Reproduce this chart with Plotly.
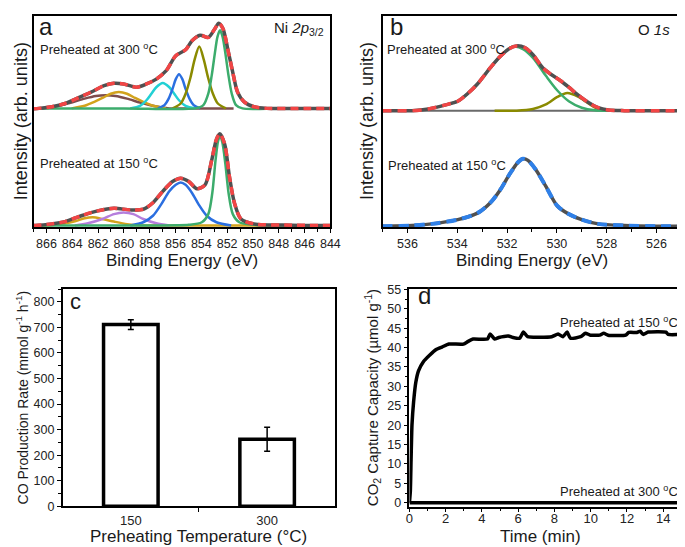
import plotly.graph_objects as go

FONT = "Liberation Sans, Arial, sans-serif"

# ---------------- Panel a: Ni 2p3/2 (arb. units) ----------------
# 300 C spectrum (envelope / data)
a300_env_E = [867.0, 866.58, 865.57, 864.56, 863.55, 862.54, 861.53, 860.77, 860.02, 859.01, 858.25,
              857.49, 856.74, 855.98, 855.22, 854.72, 854.09, 853.46, 852.95, 852.65, 852.32, 851.94,
              851.56, 851.19, 850.68, 849.92, 848.91, 846.0, 844.0]
a300_env_I = [364, 365, 370, 380, 397, 415, 435, 442, 440, 430, 440,
              455, 480, 527, 545, 573, 590, 583, 610, 627, 610, 545,
              475, 415, 385, 370, 365, 365, 365]
a300_green_E = [867.0, 860.0, 854.46, 853.84, 853.46, 853.20, 852.95, 852.75, 852.55, 852.35, 852.14,
                851.89, 851.64, 851.31, 850.81, 848.0, 844.0]
a300_green_I = [365, 365, 365, 375, 410, 465, 535, 585, 605, 585, 535, 465, 410, 375, 365, 365, 365]
a300_olive_E = [856.23, 855.60, 855.22, 854.84, 854.52, 854.16, 853.81, 853.48, 853.10, 852.72, 852.09]
a300_olive_I = [365, 380, 410, 460, 515, 555, 515, 460, 410, 380, 365]
a300_blue_E = [857.37, 856.86, 856.53, 856.23, 855.98, 855.73, 855.47, 855.22, 854.92, 854.59, 854.09]
a300_blue_I = [365, 375, 395, 425, 455, 470, 455, 425, 395, 375, 365]
a300_cyan_E = [859.51, 858.75, 858.25, 857.87, 857.49, 856.99, 856.48, 856.10, 855.73, 855.22, 854.46]
a300_cyan_I = [365, 373, 390, 410, 430, 443, 430, 410, 390, 373, 365]
a300_gold_E = [864.05, 863.04, 862.29, 861.66, 861.02, 860.39, 859.76, 859.13, 858.50, 857.75, 856.74]
a300_gold_I = [365, 373, 385, 397, 410, 415, 410, 397, 385, 373, 365]
a300_brown_E = [866.32, 865.06, 864.05, 863.04, 862.16, 861.40, 860.65, 859.76, 858.75, 857.75, 856.48,
                854.0, 851.5]
a300_brown_I = [365, 373, 383, 395, 403, 405, 403, 395, 383, 373, 365, 365, 365]

# 150 C spectrum
a150_env_E = [867.0, 866.83, 865.57, 864.56, 863.30, 862.03, 860.77, 859.51, 858.50, 857.75, 856.99,
              856.23, 855.60, 854.97, 854.34, 853.71, 853.20, 852.83, 852.57, 852.19, 851.82, 851.44,
              850.93, 849.92, 847.0, 844.0]
a150_env_I = [5, 5, 10, 17, 35, 50, 58, 53, 55, 75, 110,
              140, 150, 140, 118, 130, 205, 270, 287, 255, 155, 75,
              25, 10, 6, 5]
a150_green_E = [867.0, 858.0, 854.97, 853.96, 853.46, 853.15, 852.90, 852.70, 852.55, 852.37, 852.14,
                851.89, 851.56, 851.06, 849.92, 847.0, 844.0]
a150_green_I = [5, 5, 7, 15, 40, 105, 205, 265, 280, 260, 195, 105, 40, 15, 7, 5, 5]
a150_blue_E = [859.51, 858.50, 857.75, 857.11, 856.48, 855.98, 855.60, 855.22, 854.72, 854.21, 853.58,
               852.83, 851.69]
a150_blue_I = [5, 15, 35, 70, 110, 130, 137, 130, 105, 70, 35, 15, 5]
a150_purple_E = [863.80, 862.79, 861.66, 860.77, 860.02, 859.26, 858.50, 857.49, 856.48]
a150_purple_I = [5, 12, 25, 40, 45, 40, 25, 12, 5]
a150_gold_E = [867.0, 866.6, 865.82, 864.81, 863.80, 863.04, 862.41, 861.66, 860.77, 859.76, 858.75,
               857.0, 850.0, 844.0]
a150_gold_I = [5, 5, 5, 10, 18, 27, 30, 25, 17, 9, 5, 5, 5, 5]

# ---------------- Panel b: O 1s ----------------
b300_env_E = [537.0, 536.87, 535.82, 535.16, 534.51, 533.98, 533.59, 533.19, 532.67, 532.27, 531.88,
              531.62, 531.29, 530.96, 530.57, 530.24, 529.85, 529.52, 529.13, 528.73, 528.34,
              527.94, 527.29, 526.0, 525.0]
b300_env_I = [358, 358, 358, 363, 375, 387, 410, 440, 490, 525, 550,
              557, 552, 530, 490, 470, 450, 430, 405, 383, 367,
              360, 358, 358, 358]
b300_green_E = [537.0, 535.82, 535.16, 534.51, 533.98, 533.59, 533.19, 532.67, 532.27, 531.88, 531.68,
                531.36, 530.96, 530.44, 529.98, 529.52, 529.00, 528.47, 527.94, 525.0]
b300_green_I = [358, 358, 363, 375, 387, 410, 440, 490, 525, 552, 555,
                547, 520, 465, 420, 387, 367, 359, 358, 358]
b300_olive_E = [532.5, 531.62, 530.96, 530.44, 529.98, 529.58, 529.13, 528.73, 528.34, 527.94, 527.3]
b300_olive_I = [358, 358, 363, 377, 400, 412, 400, 380, 363, 358, 358]
b_base_E = [537.0, 525.0]
b_base_I = [358, 358]

b150_env_E = [537.0, 536.87, 535.82, 535.03, 533.98, 533.19, 532.67, 532.27, 531.88, 531.55, 531.36,
              531.16, 530.83, 530.44, 529.98, 529.52, 529.00, 528.34, 527.29, 526.0, 525.0]
b150_env_I = [3, 3, 5, 10, 23, 43, 75, 115, 165, 200, 210,
              205, 175, 125, 65, 40, 23, 10, 5, 3, 3]

# ---------------- Panel c: CO production ----------------
c_categories = ["150", "300"]
c_values = [711, 262]
c_errors = [19, 47]

# ---------------- Panel d: CO2 capture ----------------
d150_t = [0, 0.05, 0.09, 0.14, 0.23, 0.35, 0.5, 0.76, 1.11, 1.47, 1.82, 2.18, 2.98, 3.24, 3.51, 4.31,
          4.45, 4.7, 4.93, 5.46, 5.72, 6.08, 6.29, 6.52, 7.85, 8.2, 8.47, 8.7, 8.88, 9.45, 9.71, 9.98,
          10.5, 10.72, 10.96, 11.93, 12.1, 12.55, 12.73, 12.9, 13.17, 14.15, 14.27, 15.0]
d150_v = [0, 3, 11, 20, 26, 31, 34, 36.3, 38, 39.5, 40.2, 40.9, 40.9, 41.6, 42.2, 42.2,
          43.5, 42.2, 42.6, 43.0, 42.6, 42.4, 44.0, 42.8, 42.8, 43.5, 42.8, 44.0, 42.4, 42.8, 43.7, 43.2,
          43.2, 43.7, 43.2, 43.2, 43.9, 43.9, 44.2, 43.4, 44.0, 44.0, 43.4, 43.4]
d300_t = [0, 15]
d300_v = [0, 0]

RED = "#f24545"
GREY = "#505050"
BLUE_DASH = "#2f80e8"

fig = go.Figure()


def line(x, y, color, width, xa, ya, dash="solid", shape="spline", smooth=0.8, name=""):
    fig.add_trace(go.Scatter(x=x, y=y, mode="lines", xaxis=xa, yaxis=ya, name=name,
                             line=dict(color=color, width=width, dash=dash, shape=shape,
                                       smoothing=smooth if shape == "spline" else None),
                             showlegend=False, hoverinfo="skip"))


# panel a - 300
line(a300_brown_E, a300_brown_I, "#7d4c4c", 2.5, "x", "y")
line(a300_gold_E, a300_gold_I, "#d2a21c", 2.5, "x", "y")
line(a300_cyan_E, a300_cyan_I, "#22d0d4", 2.5, "x", "y")
line(a300_blue_E, a300_blue_I, "#2b6fe0", 2.5, "x", "y")
line(a300_olive_E, a300_olive_I, "#8a8a00", 2.5, "x", "y")
line(a300_green_E, a300_green_I, "#3cac6c", 2.5, "x", "y")
line(a300_env_E, a300_env_I, GREY, 3.5, "x", "y")
line(a300_env_E, a300_env_I, RED, 3.5, "x", "y", dash="8px,5px")
# panel a - 150
line(a150_gold_E, a150_gold_I, "#d2a21c", 2.5, "x", "y")
line(a150_purple_E, a150_purple_I, "#b57edc", 2.5, "x", "y")
line(a150_blue_E, a150_blue_I, "#2b6fe0", 2.5, "x", "y")
line(a150_green_E, a150_green_I, "#3cac6c", 2.5, "x", "y")
line(a150_env_E, a150_env_I, GREY, 3.5, "x", "y")
line(a150_env_E, a150_env_I, RED, 3.5, "x", "y", dash="8px,5px")

# panel b
line(b_base_E, b_base_I, "#6a6a6a", 2, "x2", "y2", shape="linear")
line(b300_olive_E, b300_olive_I, "#8a8a00", 2.5, "x2", "y2")
line(b300_green_E, b300_green_I, "#3cac6c", 2.5, "x2", "y2")
line(b300_env_E, b300_env_I, GREY, 3.5, "x2", "y2")
line(b300_env_E, b300_env_I, RED, 3.5, "x2", "y2", dash="9px,6px")
line(b150_env_E, b150_env_I, GREY, 3.5, "x2", "y2")
line(b150_env_E, b150_env_I, BLUE_DASH, 4, "x2", "y2", dash="10px,6px")

# panel c
fig.add_trace(go.Bar(x=[0, 1], y=c_values, width=0.4, xaxis="x3", yaxis="y3",
                     marker=dict(color="white", line=dict(color="black", width=3.5)),
                     error_y=dict(type="data", array=c_errors, color="black", thickness=1.5, width=3),
                     showlegend=False, hoverinfo="skip"))

# panel d
line(d300_t, d300_v, "black", 3.5, "x4", "y4", shape="linear")
line(d150_t, d150_v, "black", 3.5, "x4", "y4", smooth=0.5)

ax_common = dict(showline=True, mirror=True, linecolor="black", linewidth=1.5, showgrid=False,
                 zeroline=False, tickfont=dict(family=FONT, size=12.5, color="#222"),
                 ticks="outside", ticklen=4, tickwidth=1.2, tickcolor="black")

fig.update_layout(
    width=685, height=547, margin=dict(l=0, r=0, t=0, b=0),
    paper_bgcolor="white", plot_bgcolor="white",
    font=dict(family=FONT, color="#222"),
    xaxis=dict(ax_common, domain=[0.0321, 0.4745], range=[867, 844], anchor="y",
               tick0=844, dtick=2, minor=dict(dtick=1, ticks="outside", ticklen=3, tickcolor="black")),
    yaxis=dict(ax_common, domain=[0.6009, 0.9969], range=[0, 650], anchor="x",
               showticklabels=False, ticks=""),
    xaxis2=dict(ax_common, domain=[0.5523, 0.9975], range=[537, 525], anchor="y2",
                tick0=526, dtick=2, minor=dict(dtick=1, ticks="outside", ticklen=3, tickcolor="black")),
    yaxis2=dict(ax_common, domain=[0.6009, 0.9969], range=[0, 650], anchor="x2",
                showticklabels=False, ticks=""),
    xaxis3=dict(ax_common, domain=[0.0755, 0.4818], range=[-0.5, 1.5], anchor="y3",
                tickmode="array", tickvals=[0, 1], ticktext=c_categories, ticks="",
                ticklabelstandoff=1, tickfont=dict(family=FONT, size=13, color="#222"),
                minor=dict(tickmode="array", tickvals=[0.5], ticks="outside", ticklen=4,
                           tickcolor="black")),
    yaxis3=dict(ax_common, domain=[0.0781, 0.4850], range=[0, 850], anchor="x3",
                tick0=0, dtick=100, minor=dict(dtick=50, ticks="outside", ticklen=2.5, tickcolor="black")),
    xaxis4=dict(ax_common, domain=[0.5923, 0.9975], range=[0, 15], anchor="y4",
                tick0=0, dtick=2, ticklen=3, ticklabelstandoff=-4,
                tickfont=dict(family=FONT, size=13, color="#222"),
                minor=dict(dtick=1, ticks="outside", ticklen=2.5, tickcolor="black")),
    yaxis4=dict(ax_common, domain=[0.0768, 0.4850], range=[-1.1, 55.1], anchor="x4",
                tick0=0, dtick=5, minor=dict(dtick=2.5, ticks="outside", ticklen=2.5, tickcolor="black")),
)


def ann(text, x, y, size, xanchor="left", yanchor="middle", angle=0):
    fig.add_annotation(text=text, x=x, y=y, xref="paper", yref="paper", showarrow=False,
                       xanchor=xanchor, yanchor=yanchor, textangle=angle, borderpad=0,
                       font=dict(family=FONT, size=size, color="#1a1a1a"))


# panel labels and in-plot texts
ann("a", 0.0394, 0.9762, 24)
ann("Ni <i>2p</i><sub>3/2</sub>", 0.4672, 0.9726, 15, xanchor="right")
ann("Preheated at 300 <sup>o</sup>C", 0.0409, 0.9342, 13)
ann("Preheated at 150 <sup>o</sup>C", 0.0409, 0.7208, 13)
ann("b", 0.562, 0.976, 24)
ann("O <i>1s</i>", 0.9825, 0.9707, 15, xanchor="right")
ann("Preheated at 300 <sup>o</sup>C", 0.5577, 0.9342, 13)
ann("Preheated at 150 <sup>o</sup>C", 0.5591, 0.7166, 13)
ann("c", 0.0847, 0.4607, 22)
ann("d", 0.603, 0.4735, 24)
ann("Preheated at 150 <sup>o</sup>C", 0.9942, 0.4241, 13, xanchor="right")
ann("Preheated at 300 <sup>o</sup>C", 0.9942, 0.1073, 13, xanchor="right")

# axis titles
ann("Binding Energy (eV)", 0.2533, 0.5393, 17, xanchor="center")
ann("Binding Energy (eV)", 0.7749, 0.5393, 17, xanchor="center")
ann("Intensity (arb. units)", 0.0146, 0.7989, 18, xanchor="center", angle=-90)
ann("Intensity (arb. units)", 0.5299, 0.7989, 18, xanchor="center", angle=-90)
ann("CO Production Rate (mmol g<sup>-1</sup> h<sup>-1</sup>)", 0.0146, 0.2815, 14, xanchor="center", angle=-90)
ann("Preheating Temperature (°C)", 0.2774, 0.002, 17, xanchor="center", yanchor="bottom")
ann("CO<sub>2</sub> Capture Capacity (µmol g<sup>-1</sup>)", 0.5372, 0.2815, 15, xanchor="center", angle=-90)
ann("Time (min)", 0.7883, 0.002, 17, xanchor="center", yanchor="bottom")

fig.write_html("out.html")
